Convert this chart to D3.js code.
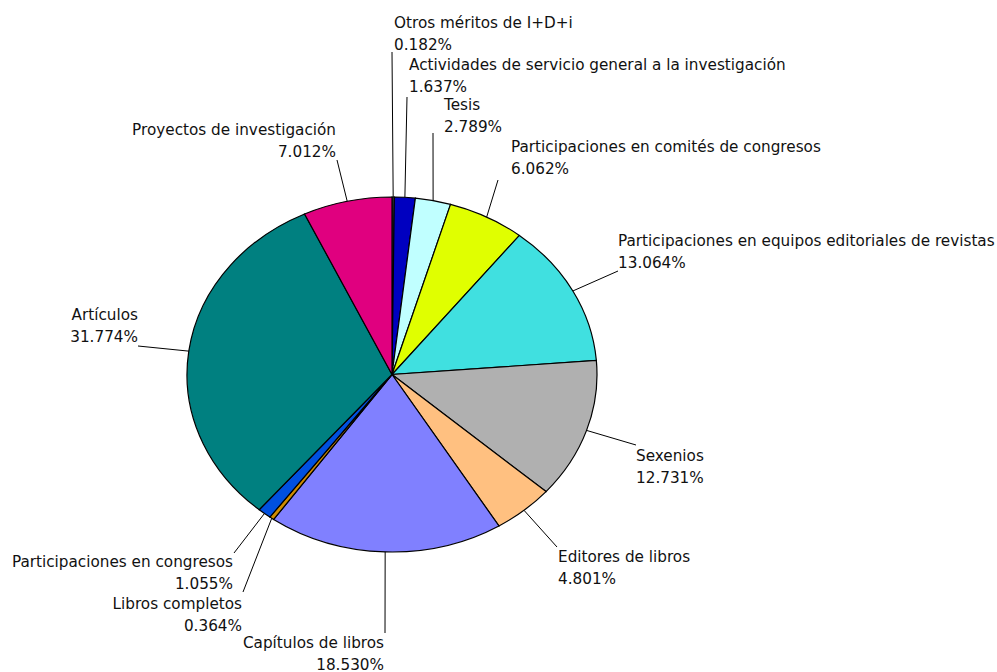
<!DOCTYPE html>
<html><head><meta charset="utf-8">
<script src="https://cdn.jsdelivr.net/npm/d3@7"></script>
<style>html,body{margin:0;padding:0;background:#fff;}svg{display:block;}</style>
</head><body>
<svg id="chart" width="997" height="672"></svg>
<script>
// ---- data ----
const categories = [
  "Otros méritos de I+D+i",
  "Actividades de servicio general a la investigación",
  "Tesis",
  "Participaciones en comités de congresos",
  "Participaciones en equipos editoriales de revistas",
  "Sexenios",
  "Editores de libros",
  "Capítulos de libros",
  "Libros completos",
  "Participaciones en congresos",
  "Artículos",
  "Proyectos de investigación"
];
const values = [0.182, 1.637, 2.789, 6.062, 13.064, 12.731, 4.801, 18.530, 0.364, 1.055, 31.774, 7.012];
const colors = ["#505050", "#0000C0", "#C0FFFF", "#E0FF00", "#40E0E0", "#B0B0B0",
                "#FFC080", "#8080FF", "#D08C00", "#0050E0", "#008080", "#E0007F"];

// ---- layout (label placement) ----
// [text x, first baseline y, anchor, leader end x, leader end y]
const labelLayout = [
  [394, 28, "start", 392, 52],
  [409, 70, "start", 407, 97],
  [444, 110, "start", 433, 133],
  [511, 152, "start", 498, 180],
  [618, 246, "start", 618, 271],
  [636, 461, "start", 636, 445],
  [558, 562, "start", 557, 547],
  [384, 648, "end", 385, 633],
  [242, 609, "end", 243, 592],
  [233, 567, "end", 234, 553],
  [138, 320, "end", 138, 346],
  [336, 135, "end", 337, 160]
];

const cx = 392, cy = 374.5, rx = 205, ry = 177.5;
const svg = d3.select("#chart");
const data = categories.map((c, i) => ({name: c, value: values[i], color: colors[i], layout: labelLayout[i]}));

const pie = d3.pie().sort(null).value(d => d.value);
const arcs = pie(data);
const arc = d3.arc().innerRadius(0).outerRadius(ry);

const g = svg.append("g").attr("transform", `translate(${cx},${cy}) scale(${rx/ry},1)`);
g.selectAll("path").data(arcs).join("path")
  .attr("d", arc)
  .attr("fill", d => d.data.color)
  .attr("stroke", "#000")
  .attr("stroke-width", 1.2)
  .attr("vector-effect", "non-scaling-stroke");

// leader lines
const fmt = d3.format(".3f");
svg.append("g").selectAll("line").data(arcs).join("line")
  .attr("x1", d => cx + rx * Math.sin((d.startAngle + d.endAngle) / 2))
  .attr("y1", d => cy - ry * Math.cos((d.startAngle + d.endAngle) / 2))
  .attr("x2", d => d.data.layout[3])
  .attr("y2", d => d.data.layout[4])
  .attr("stroke", "#000").attr("stroke-width", 1);

// labels
const fontFamily = "'DejaVu Sans', Verdana, sans-serif";
const probe = svg.append("text").attr("font-family", fontFamily).attr("font-size", 16)
  .text(categories[4]);
const w = probe.node().getComputedTextLength();
probe.remove();
const fontSize = 16 * 377 / w;

const lg = svg.append("g").attr("font-family", fontFamily).attr("font-size", fontSize).attr("fill", "#111");
data.forEach(d => {
  const [x, y, anchor] = d.layout;
  const t = lg.append("text").attr("text-anchor", anchor);
  t.append("tspan").attr("x", x).attr("y", y).text(d.name);
  t.append("tspan").attr("x", x).attr("y", y + 21.5).text(fmt(d.value) + "%");
});
</script>
</body></html>
